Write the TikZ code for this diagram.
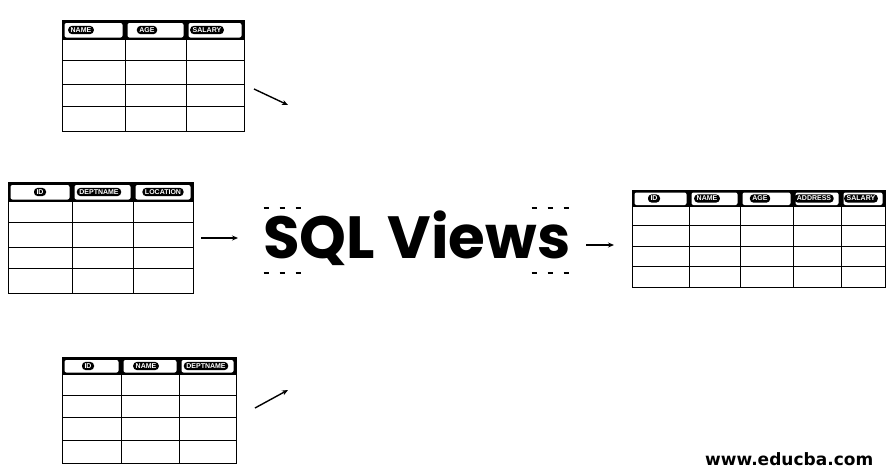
\documentclass[tikz,border=0pt]{standalone}
\usepackage{fontspec}
\usetikzlibrary{arrows.meta}
\newfontfamily\popfont{Poppins}
\newfontfamily\labfont{Liberation Sans}
\newfontfamily\wmfont{DejaVu Sans}
\tikzset{
  gridline/.style={line width=0.9pt, black},
  pill/.style={fill=black, text=white, rounded corners=3.5pt, inner xsep=2.5pt, inner ysep=1.6pt,
    font=\labfont\bfseries\fontsize{7}{7}\selectfont},
  flowarrow/.style={line width=1.4pt, -{Stealth[length=6pt,width=5pt]}},
  tablebox/.style={draw, line width=0.9pt, inner sep=0pt, anchor=north west},
  handle/.style={line width=1.3pt},
}
% #1 name, #2 col xs, #3 row ys (after header), #4 x0, #5 x1, #6 ytop, #7 yhead, #8 ybot
\newcommand\mytable[8]{%
  \node[tablebox, minimum width={(#5-#4)*1pt}, minimum height={(#8-#6)*1pt}] (#1) at (#4,#6) {};
  \fill[black] (#4,#6) rectangle (#5,#7);
  \foreach \xx in {#2} {\draw[gridline] (\xx,#6) -- (\xx,#8);}
  \foreach \yy in {#3} {\draw[gridline] (#4,\yy) -- (#5,\yy);}
  \draw[gridline] (#4,#6) rectangle (#5,#8);
}
\begin{document}
\begin{tikzpicture}[x=1pt,y=-1pt]
\useasboundingbox (0,0) rectangle (892,474);
\fill[white] (0,0) rectangle (892,474);

% ---------- Table 1 (top)
\mytable{tA}{125,186}{60,84,106}{62}{244}{20}{40}{131}
\foreach \a/\b in {62/125,125/186,186/244}
  \fill[white, rounded corners=2pt] (\a+2.5,23) rectangle (\b-2.5,37.5);
\node[pill] (tAh1) at (81,30) {NAME};
\node[pill] (tAh2) at (147,30) {AGE};
\node[pill] (tAh3) at (207,30) {SALARY};

% ---------- Table 2 (middle left)
\mytable{tB}{72,133}{222,247,268}{8}{193}{182}{202}{293}
\foreach \a/\b in {8/72,72/133,133/193}
  \fill[white, rounded corners=2pt] (\a+2.5,185) rectangle (\b-2.5,199.5);
\node[pill] (tBh1) at (40,192) {ID};
\node[pill] (tBh2) at (99,192) {DEPTNAME};
\node[pill] (tBh3) at (163,192) {LOCATION};

% ---------- Table 3 (right)
\mytable{tC}{689,740,793,841}{225,246,266}{632}{885}{190}{207}{287}
\foreach \a/\b in {632/689,689/740,740/793,793/841,841/885}
  \fill[white, rounded corners=2pt] (\a+2.5,192.5) rectangle (\b-2.5,205);
\node[pill] (tCh1) at (654,198.5) {ID};
\node[pill] (tCh2) at (707,198.5) {NAME};
\node[pill] (tCh3) at (760,198.5) {AGE};
\node[pill] (tCh4) at (814,198.5) {ADDRESS};
\node[pill] (tCh5) at (861,198.5) {SALARY};

% ---------- Table 4 (bottom)
\mytable{tD}{121,179}{395,417,440}{62}{236}{357}{375}{463}
\foreach \a/\b in {62/121,121/179,179/236}
  \fill[white, rounded corners=2pt] (\a+2.5,360) rectangle (\b-2.5,372.5);
\node[pill] (tDh1) at (88,366) {ID};
\node[pill] (tDh2) at (146,366) {NAME};
\node[pill] (tDh3) at (206,366) {DEPTNAME};

% ---------- Title
\node[anchor=base west, inner sep=0pt] (title) at (263,258)
  {\resizebox{307pt}{!}{\popfont\bfseries SQL Views}};
\foreach \xx in {266,282,298,534,550,566} {
  \draw[handle] (\xx-2.5,208) -- (\xx+2.5,208);
  \draw[handle] (\xx-2.5,273) -- (\xx+2.5,273);
}

% ---------- Arrows
\coordinate (a1s) at (254,89);  \coordinate (a1e) at (288,105);
\coordinate (a2s) at (201,238); \coordinate (a2e) at (238,238);
\coordinate (a3s) at (586,245); \coordinate (a3e) at (614,245);
\coordinate (a4s) at (255,408); \coordinate (a4e) at (288,390);
\draw[flowarrow] (a1s) -- (a1e);
\draw[flowarrow, line width=1.2pt] (a2s) -- (a2e);
\draw[flowarrow, line width=1.2pt] (a3s) -- (a3e);
\draw[flowarrow] (a4s) -- (a4e);

% ---------- Watermark
\node[anchor=base west, inner sep=0pt] (wm) at (705,465)
  {\resizebox{168pt}{!}{\wmfont\bfseries www.educba.com}};
\end{tikzpicture}
\end{document}
